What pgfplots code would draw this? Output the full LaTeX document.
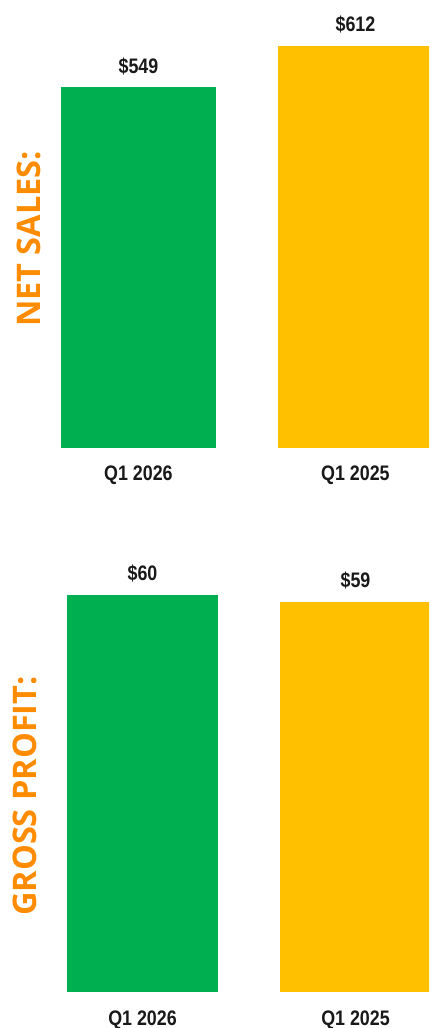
\documentclass[border=0pt]{standalone}
\usepackage{pgfplots}
\pgfplotsset{compat=1.18}
\usepackage{fontspec}
\setmainfont{Liberation Sans}[FakeStretch=0.85]
\newfontfamily\labelfont{Open Sans}
\definecolor{barGreen}{HTML}{00B050}
\definecolor{barYellow}{HTML}{FFC000}
\definecolor{labOrange}{HTML}{FF8C00}
\begin{document}
\begin{tikzpicture}
\useasboundingbox (0,0) rectangle (429pt,1028pt);
\clip (0,0) rectangle (429pt,1028pt);
\pgfplotsset{
  panel/.style={
    scale only axis, width=429pt,
    ymin=0,
    axis line style={draw=none}, tick style={draw=none},
    ymajorticks=false,
    xtick={0,1}, xticklabels={Q1 2026, Q1 2025},
    xticklabel style={font=\fontsize{21}{24}\selectfont\bfseries, anchor=base, yshift=-33pt, text=black!90},
    nodes near coords={\$\pgfmathprintnumber[assume math mode=true]{\pgfplotspointmeta}},
    every node near coord/.append style={font=\fontsize{21}{24}\selectfont\bfseries, anchor=base, yshift=14pt, text=black!90},
    clip mode=individual,
    ylabel style={font=\labelfont\fontsize{32.5}{36}\selectfont\bfseries, text=labOrange, anchor=center},
  }
}
\begin{axis}[panel, at={(0pt,580pt)}, anchor=south west, height=448pt,
  xmin=-0.638, xmax=1.339, ymax=681.4,
  bar width=0.714,
  ylabel={NET SALES:},
  ylabel style={at={(rel axis cs:0.0664,0.4665)}},
]
\addplot[ybar, fill=barGreen, draw=none] coordinates {(0,549)};
\addplot[ybar, fill=barYellow, draw=none] coordinates {(1,612)};
\end{axis}
\begin{axis}[panel, at={(0pt,36pt)}, anchor=south west, height=452pt,
  xmin=-0.669, xmax=1.345, ymax=68.31,
  bar width=0.709,
  ylabel={GROSS PROFIT:},
  ylabel style={at={(rel axis cs:0.057,0.4336)}},
]
\addplot[ybar, fill=barGreen, draw=none] coordinates {(0,60)};
\addplot[ybar, fill=barYellow, draw=none] coordinates {(1,59)};
\end{axis}
\end{tikzpicture}
\end{document}
